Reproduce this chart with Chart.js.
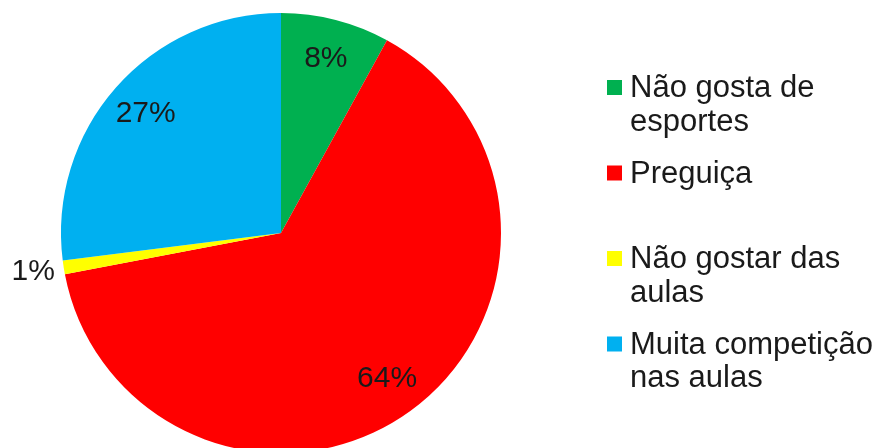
<!DOCTYPE html>
<html>
<head>
<meta charset="utf-8">
<script src="https://cdn.jsdelivr.net/npm/chart.js@4/dist/chart.umd.min.js"></script>
<style>
  body { margin: 0; background: #fff; overflow: hidden; }
  #wrap { position: relative; width: 881px; height: 460px; }
</style>
</head>
<body>
<div id="wrap"><canvas id="pie_canvas"></canvas></div>
<script>
// motivos - percent of answers
var labels = [['Não gosta de', 'esportes'], ['Preguiça'], ['Não gostar das', 'aulas'], ['Muita competição', 'nas aulas']];
var values = [8, 64, 1, 27];
var colors = ['#00b050', '#ff0000', '#ffff00', '#00b0f0'];

var LABEL_FONT = '30px "Liberation Sans", Arial, sans-serif';
var LEGEND_FONT = '31px "Liberation Sans", Arial, sans-serif';

// percentage labels on the slices (small ones go outside)
var sliceLabels = {
    id: 'sliceLabels',
    afterDatasetsDraw: function (chart) {
        var ctx = chart.ctx;
        var meta = chart.getDatasetMeta(0);
        var data = chart.data.datasets[0].data;
        ctx.save();
        ctx.font = LABEL_FONT;
        ctx.fillStyle = '#1a1a1a';
        ctx.textAlign = 'center';
        ctx.textBaseline = 'middle';
        meta.data.forEach(function (arc, i) {
            var mid = (arc.startAngle + arc.endAngle) / 2;
            var r = data[i] < 3 ? arc.outerRadius * 1.14 : arc.outerRadius * 0.82;
            ctx.fillText(data[i] + '%', arc.x + Math.cos(mid) * r, arc.y + Math.sin(mid) * r);
        });
        ctx.restore();
    }
};

// legend on the right, entries can wrap to two lines
var sideLegend = {
    id: 'sideLegend',
    afterDraw: function (chart) {
        var ctx = chart.ctx;
        var ds = chart.data.datasets[0];
        var x0 = 607, y0 = 97, slot = 85.5, lineH = 33.5;
        ctx.save();
        ctx.font = LEGEND_FONT;
        ctx.textAlign = 'left';
        ctx.textBaseline = 'alphabetic';
        chart.data.labels.forEach(function (lines, i) {
            var base = y0 + i * slot;
            ctx.fillStyle = ds.backgroundColor[i];
            ctx.fillRect(x0, base - 17, 15, 15);
            ctx.fillStyle = '#1a1a1a';
            lines.forEach(function (t, j) {
                ctx.fillText(t, x0 + 23, base + j * lineH);
            });
        });
        ctx.restore();
    }
};

var ctx = document.getElementById('pie_canvas').getContext('2d');
var myPieChart = new Chart(ctx, {
    type: 'pie',
    data: {
        labels: labels,
        datasets: [{
            data: values,
            backgroundColor: colors,
            borderWidth: 0,
            hoverOffset: 0
        }]
    },
    options: {
        responsive: true,
        maintainAspectRatio: false,
        animation: false,
        layout: { padding: { left: 61, right: 380, top: 13, bottom: 7 } },
        plugins: {
            legend: { display: false },
            tooltip: { enabled: false }
        }
    },
    plugins: [sliceLabels, sideLegend]
});
</script>
</body>
</html>
